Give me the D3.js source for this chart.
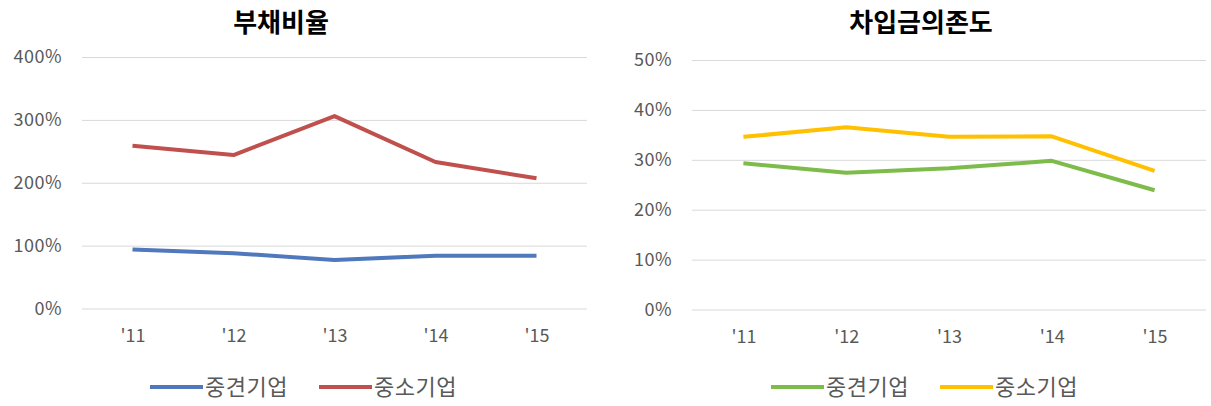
<!DOCTYPE html>
<html>
<head>
<meta charset="utf-8">
<script src="https://cdn.jsdelivr.net/npm/d3@7"></script>
<style>
  body { margin: 0; background: #fff; }
  svg text { font-family: "Noto Sans CJK KR", "Noto Sans", sans-serif; }
</style>
</head>
<body>
<div class="canvas-container"></div>
<script>

var years = ["'11", "'12", "'13", "'14", "'15"];
var seriesNames = ["중견기업", "중소기업"];

// 부채비율 (%)
var debtMid = [94, 88, 77, 84, 84];
var debtSmall = [259, 244, 306, 233, 207];
var debtTicks = [0, 100, 200, 300, 400];

// 차입금의존도 (%)
var borrowMid = [29.3, 27.4, 28.3, 29.8, 23.9];
var borrowSmall = [34.6, 36.5, 34.6, 34.7, 27.8];
var borrowTicks = [0, 10, 20, 30, 40, 50];

var width = 1211, height = 406;

var svg = d3.select("div.canvas-container")
    .append("svg")
    .attr("width", width)
    .attr("height", height);

function drawChart(opt) {
    var x, y, g, line;

    x = d3.scalePoint()
        .domain(years)
        .range([opt.left, opt.right])
        .padding(0.5);

    y = d3.scaleLinear()
        .domain([0, opt.max])
        .range([opt.bottom, opt.top]);

    g = svg.append("g");

    // title
    g.append("text")
        .attr("x", opt.titleX)
        .attr("y", 32)
        .attr("text-anchor", "middle")
        .style("font-size", "26px")
        .style("font-weight", "bold")
        .style("fill", "#000")
        .text(opt.title);

    // grid + y labels
    var yAxis = d3.axisLeft(y)
        .tickValues(opt.ticks)
        .tickSize(-(opt.right - opt.left))
        .tickPadding(20)
        .tickFormat(function (d) { return d + "%"; });

    var ya = g.append("g")
        .attr("transform", "translate(" + opt.left + ",0)")
        .call(yAxis);
    ya.select(".domain").remove();
    ya.selectAll("line").attr("stroke", "#d9d9d9").attr("stroke-width", 1);
    ya.selectAll("text")
        .style("font-size", "18px")
        .style("fill", "#595959")
        .style("letter-spacing", "0.5px");

    // x labels
    var xAxis = d3.axisBottom(x).tickSize(0).tickPadding(21);
    var xa = g.append("g")
        .attr("transform", "translate(0," + opt.bottom + ")")
        .call(xAxis);
    xa.select(".domain").remove();
    xa.selectAll("text")
        .style("font-size", "18px")
        .style("fill", "#595959");

    line = d3.line()
        .x(function (d, i) { return x(years[i]); })
        .y(function (d) { return y(d); });

    opt.series.forEach(function (s, i) {
        g.append("path")
            .datum(s)
            .attr("d", line)
            .attr("fill", "none")
            .attr("stroke", opt.colors[i])
            .attr("stroke-width", 4)
            .attr("stroke-linejoin", "round");
    });

    // legend
    var lg = g.append("g")
        .attr("transform", "translate(" + opt.legendX + ",387)");
    seriesNames.forEach(function (name, i) {
        var item = lg.append("g")
            .attr("transform", "translate(" + (i * 169) + ",0)");
        item.append("line")
            .attr("x1", 0).attr("x2", 53)
            .attr("y1", 0).attr("y2", 0)
            .attr("stroke", opt.colors[i])
            .attr("stroke-width", 4);
        item.append("text")
            .attr("x", 55)
            .attr("y", 0)
            .attr("dy", "0.35em")
            .style("font-size", "22px")
            .style("fill", "#595959")
            .style("letter-spacing", "0.5px")
            .text(name);
    });
}

drawChart({
    title: "부채비율",
    titleX: 281,
    left: 82, right: 587,
    top: 57, bottom: 308.5,
    max: 400,
    ticks: debtTicks,
    series: [debtMid, debtSmall],
    colors: ["#4f78bd", "#c0504d"],
    legendX: 150
});

drawChart({
    title: "차입금의존도",
    titleX: 921,
    left: 692, right: 1206,
    top: 60, bottom: 309.5,
    max: 50,
    ticks: borrowTicks,
    series: [borrowMid, borrowSmall],
    colors: ["#7dbb4a", "#ffc000"],
    legendX: 771
});

</script>
</body>
</html>
